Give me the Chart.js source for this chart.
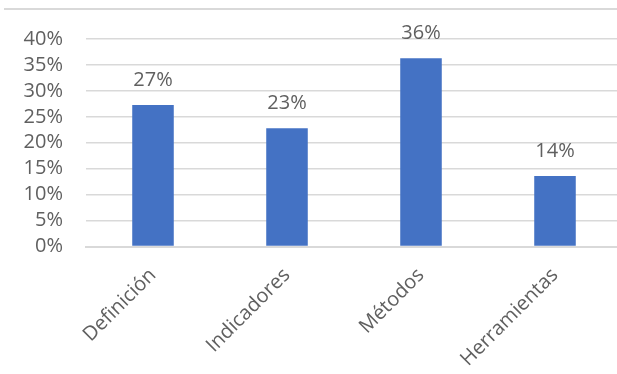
<!DOCTYPE html>
<html>
<head>
<meta charset="utf-8">
<script src="https://cdn.jsdelivr.net/npm/chart.js@4/dist/chart.umd.min.js"></script>
<style>
  html,body{margin:0;padding:0;background:#fff;overflow:hidden}
  #wrap{position:relative;width:617px;height:374px;overflow:hidden}
  #frameTop{position:absolute;left:4px;right:0;top:8px;height:2px;background:#d9d9d9}
  canvas{position:absolute;left:0;top:0}
</style>
</head>
<body>
<div id="wrap">
  <div id="frameTop"></div>
  <canvas id="chart" width="630" height="374"></canvas>
</div>
<script>
// datos
const categorias = ["Definición", "Indicadores", "Métodos", "Herramientas"];
const valores = [0.273, 0.228, 0.363, 0.136];
const ticksY = [0, 0.05, 0.10, 0.15, 0.20, 0.25, 0.30, 0.35, 0.40];

const gris = "#606060";
const fuente = "'Open Sans', sans-serif";

// etiquetas encima de cada barra
const etiquetas = {
  id: "etiquetas",
  afterDatasetsDraw(chart){
    const ctx = chart.ctx;
    const meta = chart.getDatasetMeta(0);
    ctx.save();
    ctx.fillStyle = gris;
    ctx.font = "20px " + fuente;
    ctx.textAlign = "center";
    ctx.textBaseline = "alphabetic";
    meta.data.forEach((bar, i)=>{
      ctx.fillText(Math.round(valores[i]*100) + "%", bar.x, bar.y - 19);
    });
    ctx.restore();
  }
};

new Chart(document.getElementById("chart"), {
  type: "bar",
  data: {
    labels: categorias,
    datasets: [{
      data: valores,
      backgroundColor: "#4472c4",
      borderWidth: 0,
      barPercentage: 0.31,
      categoryPercentage: 1
    }]
  },
  options: {
    responsive: false,
    animation: false,
    layout: { padding: { top: 39, right: 8, left: 0, bottom: 0 } },
    plugins: { legend: { display: false }, tooltip: { enabled: false } },
    scales: {
      y: {
        min: 0, max: 0.40,
        afterBuildTicks(scale){ scale.ticks = ticksY.map(v=>({value:v})); },
        afterFit(scale){ scale.width = 86; },
        border: { display: false },
        grid: { color: "#d9d9d9", lineWidth: 1.5, drawTicks: false },
        ticks: {
          autoSkip: false, padding: 23, color: gris,
          font: { size: 20, family: fuente },
          callback: v => Math.round(v*100) + "%"
        }
      },
      x: {
        afterFit(scale){ scale.height = 374 - 39 - 207.5; },
        border: { color: "#d9d9d9", width: 2 },
        grid: { display: false },
        ticks: {
          autoSkip: false, minRotation: 45, maxRotation: 45, padding: 9, color: gris,
          font: { size: 20, family: fuente }
        }
      }
    }
  },
  plugins: [etiquetas]
});
</script>
</body>
</html>
